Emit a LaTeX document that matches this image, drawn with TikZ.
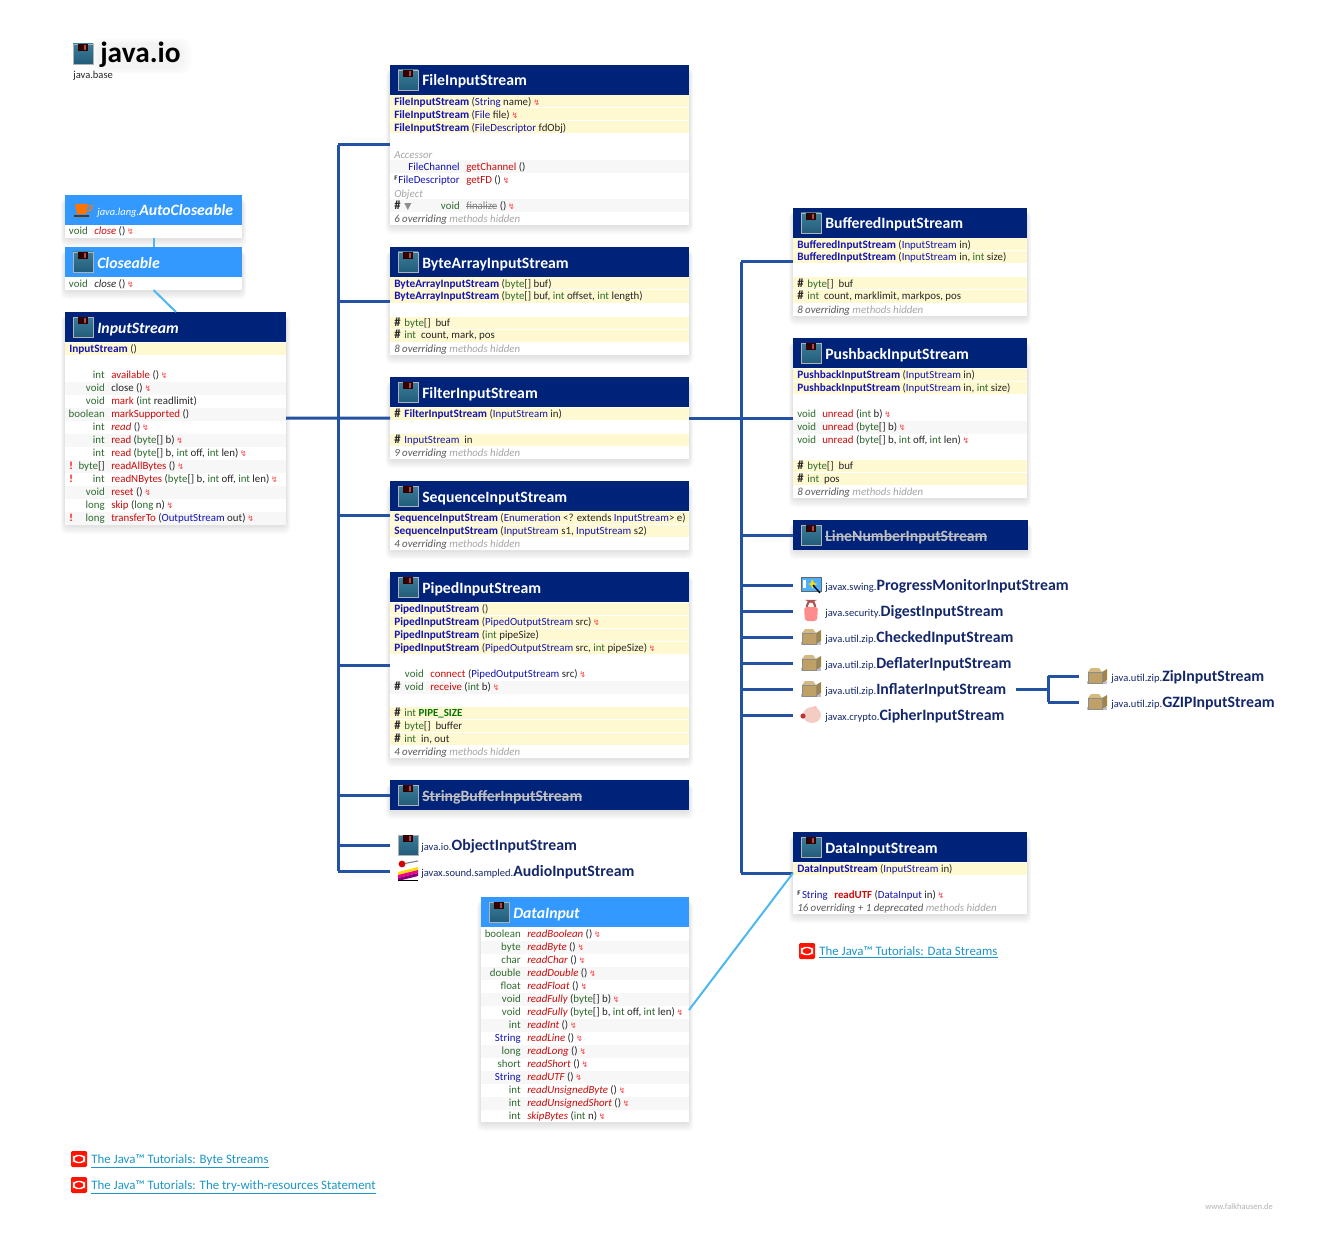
\documentclass[tikz,border=0pt]{standalone}
\usepackage{fontspec}
\setmainfont{Carlito}
\newfontfamily\symfont{DejaVu Sans}
\usetikzlibrary{calc}

\definecolor{headnavy}{HTML}{00237A}
\definecolor{headsky}{HTML}{3399FF}
\definecolor{extblue}{HTML}{2352A3}
\definecolor{implblue}{HTML}{4DB8F0}
\definecolor{cream}{HTML}{FFF9D2}
\definecolor{rowgray}{HTML}{F7F7F7}
\definecolor{typegreen}{HTML}{2E6B2E}
\definecolor{classblue}{HTML}{1414B4}
\definecolor{methodred}{HTML}{CC0A0A}
\definecolor{linkblue}{HTML}{1B95C8}
\definecolor{labelnavy}{HTML}{14276B}
\definecolor{floppytop}{HTML}{3A7D9B}
\definecolor{floppybot}{HTML}{225D7A}
\definecolor{parcelfront}{HTML}{BFA066}
\definecolor{parcelside}{HTML}{A08448}
\definecolor{parceltop}{HTML}{D4BA82}
\definecolor{pigpink}{HTML}{F3CDC3}

\newlength\strikelen
\newcommand{\strike}[1]{\settowidth{\strikelen}{#1}\rlap{#1}\rule[.25em]{\strikelen}{.45pt}}
\newcommand{\bodyfont}{\fontsize{8.15}{9}\selectfont}
\newcommand{\titlefont}{\fontsize{11.8}{14}\selectfont\bfseries}
\newcommand{\tname}[1]{\textcolor{typegreen}{#1}}
\newcommand{\cname}[1]{\textcolor{classblue}{#1}}
\newcommand{\ctor}[1]{\textcolor{classblue}{\fontsize{8.45}{9}\selectfont\bfseries #1}}
\newcommand{\mred}[1]{\textcolor{methodred}{#1}}
\newcommand{\mital}[1]{\textcolor{methodred}{\itshape #1}}
\newcommand{\thrown}{\,{\symfont\fontsize{6}{6}\selectfont\textcolor{red!75}{↯}}}
\newcommand{\barr}{\tname{byte}[]}
\newcommand{\prot}{\makebox[7.6pt][l]{\fontsize{9.5}{9}\selectfont\bfseries\#}}
\newcommand{\finalmark}{\raisebox{2.2pt}{\fontsize{5.2}{5}\selectfont\bfseries F}}
\newcommand{\newmark}{\textcolor{red}{\bfseries !}}
\newcommand{\hiddenrow}[1]{\textit{\textcolor{black!65}{#1} \textcolor{black!35}{methods hidden}}}
\newcommand{\pkg}[2]{{\fontsize{7.9}{9}\selectfont\textcolor{labelnavy}{#1}}{\fontsize{11.85}{13}\selectfont\bfseries\textcolor{labelnavy}{#2}}}

\tikzset{
    rowtxt/.style={anchor=base west, inner sep=0pt, font=\bodyfont, text=black!85},
    rettxt/.style={anchor=base east, inner sep=0pt, font=\bodyfont, text=black!85},
    classbody/.style={fill=white, inner sep=0pt, outer sep=0pt},
    titletxt/.style={anchor=base west, inner sep=0pt, font=\titlefont, text=white},
    slot/.style={inner sep=0pt, outer sep=0pt, minimum width=27pt, minimum height=15pt},
    pkgtxt/.style={anchor=base west, inner sep=0pt},
    linktxt/.style={anchor=base west, inner sep=0pt, font=\fontsize{9.67}{11}\selectfont, text=linkblue},
    extline/.style={draw=extblue, line width=2.25pt},
    implline/.style={draw=implblue, line width=1.5pt},
    floppy/.pic={
        \shade[top color=floppytop, bottom color=floppybot] (-10,-10) rectangle (10,10);
        \draw[black!30, line width=.3pt] (-10,-10) rectangle (10,10);
        \fill[black!80!red] (-5,-10) rectangle (5,-3);
        \fill[black!50!red!70!white] (1,-9) rectangle (3,-4);
    },
    coffee/.pic={
        \fill[orange!90!red] (-8,-6) -- (5,-6) -- (3,4) -- (-6,4) -- cycle;
        \draw[orange!90!red, line width=1pt] (5,-4) -- (9,-4) -- (8,0) -- (4,1);
        \fill[black!60!orange] (-9,5) rectangle (6,7);
    },
    lock/.pic={
        \draw[red!35!gray, line width=1.6pt, rounded corners=3.5] (-4,-2) -- (-4,-10) -- (4,-10) -- (4,-2);
        \fill[red!45, rounded corners=2] (-7,-4) -- (7,-4) -- (6,10) -- (-6,10) -- cycle;
    },
    parcel/.pic={
        \fill[blue!25!black!25] (-10,5) rectangle (10,8);
        \fill[parcelfront] (-9,-4) rectangle (5,7);
        \fill[parcelside] (5,-4) -- (10,-7) -- (10,4) -- (5,7) -- cycle;
        \fill[parceltop] (-9,-4) -- (-6,-8) -- (2,-8) -- (5,-4) -- cycle;
        \draw[black!45, line width=.3pt] (-9,-4) rectangle (5,7);
    },
    piggy/.pic={
        \fill[pigpink] (1,0) ellipse[x radius=9, y radius=8];
        \fill[red!70!black!80] (-8,1) circle[radius=2.6];
        \fill[red!25] (4,-7) circle[radius=2];
    },
    wandwin/.pic={
        \fill[blue!45!cyan!70] (-10,-8) rectangle (10,6);
        \draw[black!60, line width=.6pt] (-10,-8) rectangle (10,6);
        \fill[white] (-8,-5) rectangle (-5,3);
        \fill[yellow!90!red] (1,-6) -- (3,-2) -- (7,-1) -- (3,0) -- (1,4) -- (0,0) -- (-3,-1) -- (0,-2) -- cycle;
        \draw[black, line width=1pt] (2,0) -- (9,8);
    },
    audio/.pic={
        \draw[black!50, line width=.8pt] (-6,-7) -- (10,-10);
        \fill[red!85!black] (-6,-7) circle[radius=3.4];
        \fill[yellow!80!orange] (-10,1) -- (10,-4) -- (10,-1) -- (-10,4) -- cycle;
        \fill[magenta] (-10,4) -- (10,-1) -- (10,2) -- (-10,7) -- cycle;
        \fill[purple!70!blue] (-10,7) -- (10,2) -- (10,5) -- (-10,10) -- cycle;
        \fill[black] (-10,9) rectangle (10,10);
    },
    oracle/.pic={
        \fill[red!85!orange, rounded corners=1] (-8,-8) rectangle (8,8);
        \draw[white, line width=1.1pt, rounded corners=3] (-5.5,-3.5) rectangle (5.5,3.5);
    }
}

% soft shadow under a box
\newcommand{\softshadow}[4]{%
    \foreach \s in {1,...,7} {
        \fill[black, opacity=.016, rounded corners=4] (#1-\s*.6,#2+4) rectangle (#3+\s*.6,#4+1+1.2*\s);
    }
}
% class box with header: name, x1, y1, x2, y2, header colour, icon, title
\newcommand{\classbox}[8]{%
    \softshadow{#2}{#3}{#4}{#5}
    \node[classbody, minimum width={(#4-#2)*.75pt}, minimum height={(#5-#3)*.75pt}] (#1) at ({(#2+#4)/2},{(#3+#5)/2}) {};
    \fill[#6] (#2,#3) rectangle (#4,#3+30);
    \pic at (#2+18,#3+15) {#7};
    \node[titletxt] (#1title) at (#2+32,#3+21) {#8};
}
\newcommand{\creamrows}[3]{\foreach \y in {#3} {\fill[cream] (#1,\y-6.5) rectangle (#2,\y+5.5);}}
\newcommand{\grayrows}[3]{\foreach \y in {#3} {\fill[rowgray] (#1,\y-6.5) rectangle (#2,\y+6.5);}}

\begin{document}
\begin{tikzpicture}[x=.75pt, y=-.75pt]
    \useasboundingbox (0,0) rectangle (1329,1252);

    % package title
    \foreach \s in {1,...,6} {
        \fill[black, opacity=.007, rounded corners=8] (100-2*\s,44-\s) rectangle (180+2*\s,68+\s);
    }
    \pic at (83,54) {floppy};
    \node[pkgtxt, font=\fontsize{22}{24}\selectfont\bfseries] (pkgname) at (100,63) {java.io};
    \node[rowtxt, font=\fontsize{7.9}{9}\selectfont] (pkgbase) at (73,79) {java.base};

    % interfaces above InputStream
    \classbox{AutoCl}{65}{195}{242}{238}{headsky}{coffee}{}
    \node[titletxt] (AutoCltxt) at (97,215.5) {\itshape{\mdseries\fontsize{7.9}{9}\selectfont java.lang.}AutoCloseable};
    \node[rettxt] (autoret) at (88,235) {\tname{void}};
    \node[rowtxt] (autometh) at (94,235) {\mital{close} ()\thrown};

    \classbox{Closeable}{65}{247}{242}{290}{headsky}{floppy}{\itshape Closeable}
    \node[rettxt] (closeret) at (88,287) {\tname{void}};
    \node[rowtxt] (closemeth) at (94,287) {\textit{close} ()\thrown};

    % InputStream
    \classbox{InputS}{65}{312}{286}{524.5}{headnavy}{floppy}{\itshape InputStream}
    \creamrows{65}{286}{349}
    \grayrows{65}{286}{388,414,440,466,492,518}
    \node[rowtxt] (inctor) at (69,352) {\ctor{InputStream} ()};
    \foreach \y/\ret/\meth in {
        375/\tname{int}/{\mred{available} ()\thrown},
        388/\tname{void}/{close ()\thrown},
        401/\tname{void}/{\mred{mark} (\tname{int} readlimit)},
        414/\tname{boolean}/{\mred{markSupported} ()},
        427/\tname{int}/{\mital{read} ()\thrown},
        440/\tname{int}/{\mred{read} (\barr\ b)\thrown},
        453/\tname{int}/{\mred{read} (\barr\ b, \tname{int} off, \tname{int} len)\thrown},
        466/\barr/{\mred{readAllBytes} ()\thrown},
        479/\tname{int}/{\mred{readNBytes} (\barr\ b, \tname{int} off, \tname{int} len)\thrown},
        492/\tname{void}/{\mred{reset} ()\thrown},
        505/\tname{long}/{\mred{skip} (\tname{long} n)\thrown},
        518/\tname{long}/{\mred{transferTo} (\cname{OutputStream} out)\thrown}} {
        \node[rettxt] (in\y ret) at (105,\y+3) {\ret};
        \node[rowtxt] (in\y meth) at (111,\y+3) {\meth};
    }
    \foreach \y in {466,479,518} {
        \node[rowtxt] (new\y) at (69,\y+3) {\newmark};
    }

    % FileInputStream
    \classbox{FileIS}{390}{65}{689}{225}{headnavy}{floppy}{FileInputStream}
    \creamrows{390}{689}{102,115,128}
    \grayrows{390}{689}{167,206}
    \foreach \y/\txt in {
        102/{\ctor{FileInputStream} (\cname{String} name)\thrown},
        115/{\ctor{FileInputStream} (\cname{File} file)\thrown},
        128/{\ctor{FileInputStream} (\cname{FileDescriptor} fdObj)},
        155/{\textit{\textcolor{black!35}{Accessor}}},
        194/{\textit{\textcolor{black!35}{Object}}},
        219/{\hiddenrow{6 overriding}}} {
        \node[rowtxt] (file\y) at (394,\y+3.5) {\txt};
    }
    \node[rettxt] (fileret1) at (460,170.5) {\cname{FileChannel}};
    \node[rowtxt] (filemeth1) at (466,170.5) {\mred{getChannel} ()};
    \node[rowtxt] (filefinal) at (394,183.5) {\finalmark};
    \node[rettxt] (fileret2) at (460,183.5) {\cname{FileDescriptor}};
    \node[rowtxt] (filemeth2) at (466,183.5) {\mred{getFD} ()\thrown};
    \node[rowtxt] (fileprot) at (394,209.5) {\prot{\symfont\fontsize{7}{7}\selectfont\textcolor{black!45}{▼}}};
    \node[rettxt] (fileret3) at (460,209.5) {\tname{void}};
    \node[rowtxt] (filemeth3) at (466,209.5) {\textcolor{black!50}{\strike{finalize}} ()\thrown};

    % ByteArrayInputStream
    \classbox{ByteIS}{390}{247}{689}{355}{headnavy}{floppy}{ByteArrayInputStream}
    \creamrows{390}{689}{284,297,323,336}
    \foreach \y/\txt in {
        284/{\ctor{ByteArrayInputStream} (\barr\ buf)},
        297/{\ctor{ByteArrayInputStream} (\barr\ buf, \tname{int} offset, \tname{int} length)},
        323/{\prot\barr\ \ buf},
        336/{\prot\tname{int} \ count, mark, pos},
        349/{\hiddenrow{8 overriding}}} {
        \node[rowtxt] (byte\y) at (394,\y+3) {\txt};
    }

    % FilterInputStream
    \classbox{FilterIS}{390}{377}{689}{459}{headnavy}{floppy}{FilterInputStream}
    \creamrows{390}{689}{414,440}
    \foreach \y/\txt in {
        414/{\prot\ctor{FilterInputStream} (\cname{InputStream} in)},
        440/{\prot\cname{InputStream} \ in},
        453/{\hiddenrow{9 overriding}}} {
        \node[rowtxt] (filter\y) at (394,\y+3) {\txt};
    }

    % SequenceInputStream
    \classbox{SeqIS}{390}{481}{689}{550}{headnavy}{floppy}{SequenceInputStream}
    \creamrows{390}{689}{518,531}
    \foreach \y/\txt in {
        518/{\ctor{SequenceInputStream} (\cname{Enumeration} <? extends \cname{InputStream}> e)},
        531/{\ctor{SequenceInputStream} (\cname{InputStream} s1, \cname{InputStream} s2)},
        544/{\hiddenrow{4 overriding}}} {
        \node[rowtxt] (seq\y) at (394,\y+3) {\txt};
    }

    % PipedInputStream
    \classbox{PipedIS}{390}{572}{689}{758}{headnavy}{floppy}{PipedInputStream}
    \creamrows{390}{689}{609,622,635,648,713,726,739}
    \grayrows{390}{689}{687}
    \foreach \y/\txt in {
        609/{\ctor{PipedInputStream} ()},
        622/{\ctor{PipedInputStream} (\cname{PipedOutputStream} src)\thrown},
        635/{\ctor{PipedInputStream} (\tname{int} pipeSize)},
        648/{\ctor{PipedInputStream} (\cname{PipedOutputStream} src, \tname{int} pipeSize)\thrown},
        687/{\prot},
        713/{\prot\tname{int} \textcolor{green!45!black}{\bfseries PIPE\_SIZE}},
        726/{\prot\barr\ \ buffer},
        739/{\prot\tname{int} \ in, out},
        752/{\hiddenrow{4 overriding}}} {
        \node[rowtxt] (piped\y) at (394,\y+3) {\txt};
    }
    \node[rettxt] (pipedret1) at (424,677) {\tname{void}};
    \node[rowtxt] (pipedmeth1) at (430,677) {\mred{connect} (\cname{PipedOutputStream} src)\thrown};
    \node[rettxt] (pipedret2) at (424,690) {\tname{void}};
    \node[rowtxt] (pipedmeth2) at (430,690) {\mred{receive} (\tname{int} b)\thrown};

    % deprecated StringBufferInputStream
    \classbox{StringIS}{390}{780}{689}{810}{headnavy}{floppy}{\textcolor{black!25}{\strike{StringBufferInputStream}}}

    % other subclasses, left column
    \node[slot] (ObjIS) at (408,845) {};
    \pic at (408,845) {floppy};
    \node[pkgtxt] (ObjIStxt) at (421,850) {\pkg{java.io.}{ObjectInputStream}};
    \node[slot] (AudioIS) at (408,871) {};
    \pic at (408,871) {audio};
    \node[pkgtxt] (AudioIStxt) at (421,876) {\pkg{javax.sound.sampled.}{AudioInputStream}};

    % DataInput
    \classbox{DataIn}{481}{897}{689}{1122}{headsky}{floppy}{\itshape DataInput}
    \grayrows{481}{689}{947,973,999,1025,1051,1077,1103}
    \foreach \y/\ret/\meth in {
        934/\tname{boolean}/{\mital{readBoolean} ()\thrown},
        947/\tname{byte}/{\mital{readByte} ()\thrown},
        960/\tname{char}/{\mital{readChar} ()\thrown},
        973/\tname{double}/{\mital{readDouble} ()\thrown},
        986/\tname{float}/{\mital{readFloat} ()\thrown},
        999/\tname{void}/{\mital{readFully} (\barr\ b)\thrown},
        1012/\tname{void}/{\mital{readFully} (\barr\ b, \tname{int} off, \tname{int} len)\thrown},
        1025/\tname{int}/{\mital{readInt} ()\thrown},
        1038/\cname{String}/{\mital{readLine} ()\thrown},
        1051/\tname{long}/{\mital{readLong} ()\thrown},
        1064/\tname{short}/{\mital{readShort} ()\thrown},
        1077/\cname{String}/{\mital{readUTF} ()\thrown},
        1090/\tname{int}/{\mital{readUnsignedByte} ()\thrown},
        1103/\tname{int}/{\mital{readUnsignedShort} ()\thrown},
        1116/\tname{int}/{\mital{skipBytes} (\tname{int} n)\thrown}} {
        \node[rettxt] (di\y ret) at (521,\y+3) {\ret};
        \node[rowtxt] (di\y meth) at (527,\y+3) {\meth};
    }

    % BufferedInputStream
    \classbox{BufIS}{793}{208}{1027}{316}{headnavy}{floppy}{BufferedInputStream}
    \creamrows{793}{1027}{245,258,284,297}
    \foreach \y/\txt in {
        245/{\ctor{BufferedInputStream} (\cname{InputStream} in)},
        258/{\ctor{BufferedInputStream} (\cname{InputStream} in, \tname{int} size)},
        284/{\prot\barr\ \ buf},
        297/{\prot\tname{int} \ count, marklimit, markpos, pos},
        310/{\hiddenrow{8 overriding}}} {
        \node[rowtxt] (buf\y) at (797,\y+3) {\txt};
    }

    % PushbackInputStream
    \classbox{PushIS}{793}{338}{1027}{498}{headnavy}{floppy}{PushbackInputStream}
    \creamrows{793}{1027}{375,388,466,479}
    \grayrows{793}{1027}{427}
    \foreach \y/\txt in {
        375/{\ctor{PushbackInputStream} (\cname{InputStream} in)},
        388/{\ctor{PushbackInputStream} (\cname{InputStream} in, \tname{int} size)},
        414/{\tname{void}},
        427/{\tname{void}},
        440/{\tname{void}},
        466/{\prot\barr\ \ buf},
        479/{\prot\tname{int} \ pos},
        492/{\hiddenrow{8 overriding}}} {
        \node[rowtxt] (push\y) at (797,\y+3) {\txt};
    }
    \foreach \y/\txt in {
        414/{(\tname{int} b)\thrown},
        427/{(\barr\ b)\thrown},
        440/{(\barr\ b, \tname{int} off, \tname{int} len)\thrown}} {
        \node[rowtxt] (pushmeth\y) at (822,\y+3) {\mred{unread} \txt};
    }

    % deprecated LineNumberInputStream
    \classbox{LineIS}{793}{520}{1028}{550}{headnavy}{floppy}{\textcolor{black!25}{\strike{LineNumberInputStream}}}

    % other subclasses, right column
    \foreach \n/\y/\ic/\pk/\cl in {
        ProgIS/585/wandwin/javax.swing./ProgressMonitorInputStream,
        DigIS/611/lock/java.security./DigestInputStream,
        ChkIS/637/parcel/java.util.zip./CheckedInputStream,
        DefIS/663/parcel/java.util.zip./DeflaterInputStream,
        InfIS/689/parcel/java.util.zip./InflaterInputStream,
        CipIS/715/piggy/javax.crypto./CipherInputStream} {
        \node[slot] (\n) at (811,\y) {};
        \pic at (811,\y) {\ic};
        \node[pkgtxt] (\n txt) at (825,\y+5) {\pkg{\pk}{\cl}};
    }
    \foreach \n/\y/\cl in {
        ZipIS/676/ZipInputStream,
        GzipIS/702/GZIPInputStream} {
        \node[slot] (\n) at (1097,\y) {};
        \pic at (1097,\y) {parcel};
        \node[pkgtxt] (\n txt) at (1111,\y+5) {\pkg{java.util.zip.}{\cl}};
    }

    % DataInputStream
    \classbox{DataIS}{793}{832}{1027}{914}{headnavy}{floppy}{DataInputStream}
    \creamrows{793}{1027}{869}
    \node[rowtxt] (data869) at (797,872) {\ctor{DataInputStream} (\cname{InputStream} in)};
    \node[rowtxt] (datafinal) at (797,898) {\finalmark};
    \node[rettxt] (dataret) at (828,898) {\cname{String}};
    \node[rowtxt] (datameth) at (834,898) {\textcolor{methodred}{\bfseries readUTF} (\cname{DataInput} in)\thrown};
    \node[rowtxt] (data908) at (797,911) {\hiddenrow{16 overriding + 1 deprecated}};

    % extends lines
    \coordinate (leftbus) at (338,145);
    \coordinate (rightbus) at (741,262);
    \coordinate (inflout) at (1016,689);
    \coordinate (zipbus) at (1048,676);
    \draw[extline] (InputS.east) -- (FilterIS.west);
    \draw[extline] (leftbus |- AudioIS.west) -- (leftbus |- FileIS.west);
    \foreach \n in {FileIS,ByteIS,SeqIS,PipedIS,StringIS,ObjIS,AudioIS} {
        \draw[extline] (leftbus |- \n.west) -- (\n.west);
    }
    \draw[extline] (FilterIS.east) -- (PushIS.west);
    \draw[extline] (rightbus |- DataIS.west) -- (rightbus |- BufIS.west);
    \foreach \n in {BufIS,LineIS,ProgIS,DigIS,ChkIS,DefIS,InfIS,CipIS,DataIS} {
        \draw[extline] (rightbus |- \n.west) -- (\n.west);
    }
    \draw[extline] (inflout) -- (zipbus |- inflout);
    \draw[extline] (zipbus |- ZipIS.west) -- (zipbus |- GzipIS.west);
    \draw[extline] (zipbus |- ZipIS.west) -- (ZipIS.west);
    \draw[extline] (zipbus |- GzipIS.west) -- (GzipIS.west);

    % implements lines
    \coordinate (inputtop) at (176,312);
    \coordinate (dataout) at (689,1010);
    \draw[implline] (AutoCl.south) -- (Closeable.north);
    \draw[implline] (Closeable.south) -- (inputtop);
    \draw[implline] (dataout) -- (DataIS.west);

    % tutorial links
    \pic at (807,951) {oracle};
    \node[linktxt] (datalink) at (819,955) {\underline{The Java™ Tutorials: Data Streams}};
    \pic at (79,1159) {oracle};
    \node[linktxt] (bytelink) at (91,1163) {\underline{The Java™ Tutorials: Byte Streams}};
    \pic at (79,1185) {oracle};
    \node[linktxt] (trylink) at (91,1189) {\underline{The Java™ Tutorials: The try-with-resources Statement}};

    \node[rowtxt, font=\fontsize{6.35}{7}\selectfont, text=black!30] (credit) at (1205,1209) {www.falkhausen.de};
\end{tikzpicture}
\end{document}
